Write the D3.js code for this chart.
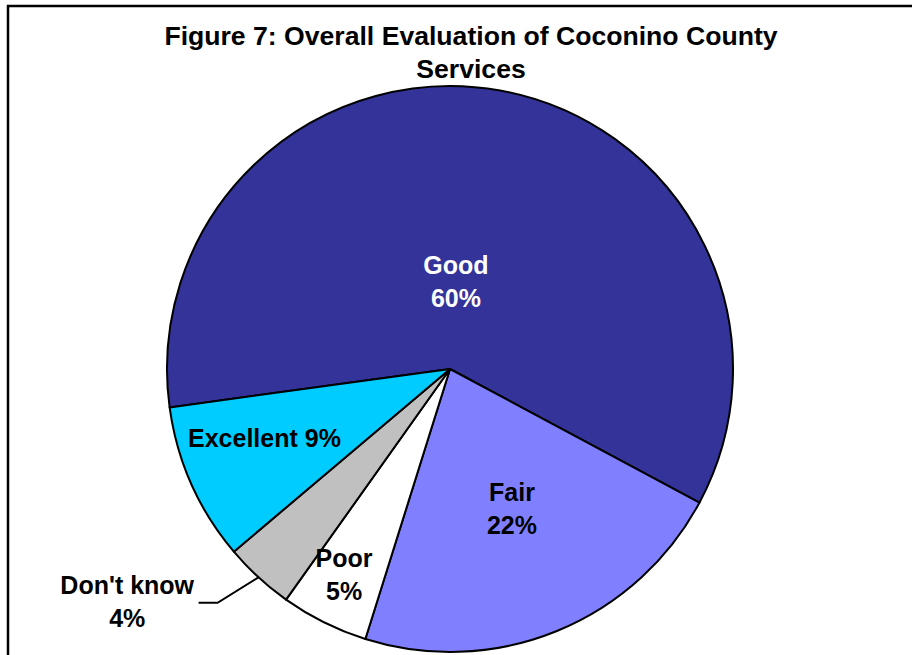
<!DOCTYPE html>
<html>
<head>
<meta charset="utf-8">
<script src="https://cdn.jsdelivr.net/npm/d3@7/dist/d3.min.js"></script>
<style>
  html, body { margin: 0; padding: 0; background: #fff; }
  svg { display: block; }
  text { font-family: Arial, "Liberation Sans", Helvetica, sans-serif; font-weight: bold; }
</style>
</head>
<body>
<svg id="chart" width="912" height="655"></svg>
<script>
// ---- data ----
const categories = ["Good", "Fair", "Poor", "Don't know", "Excellent"];
const values = [60, 22, 5, 4, 9];
const labelLines = [["Good", "60%"], ["Fair", "22%"], ["Poor", "5%"], ["Don't know", "4%"], ["Excellent 9%"]];
const titleLines = ["Figure 7: Overall Evaluation of Coconino County", "Services"];

// ---- style / layout ----
const colors = ["#333399", "#8080FF", "#FFFFFF", "#C0C0C0", "#00CCFF"];
const textColors = ["#FFFFFF", "#000000", "#000000", "#000000", "#000000"];
// label placement in polar terms relative to the slice mid-angle: [radius, angle offset in degrees]
const labelPolar = [[87, -6.3], [153, -1.7], [231, 0.9], [398, 11.6], [198, 3.6]];
const outsideLabel = [false, false, false, true, false];

const W = 912, H = 655;
const cx = 450, cy = 369, R = 283;
const startDeg = -97.8;
const lineGap = 33;
const fontSize = 25;

const svg = d3.select("#chart");

// frame
svg.append("rect")
  .attr("x", 8).attr("y", 6)
  .attr("width", W + 20).attr("height", H + 20)
  .attr("fill", "#fff").attr("stroke", "#000").attr("stroke-width", 2.5);

// title
const title = svg.append("text")
  .attr("x", 471).attr("y", 45)
  .attr("text-anchor", "middle")
  .attr("font-size", 26.6)
  .attr("fill", "#000");
titleLines.forEach((t, i) => {
  title.append("tspan").attr("x", 471).attr("y", 45 + i * lineGap).text(t);
});

// pie
const data = categories.map((c, i) => ({ cat: c, value: values[i], i }));
const start = startDeg * Math.PI / 180;
const pie = d3.pie().value(d => d.value).sort(null)
  .startAngle(start).endAngle(start + 2 * Math.PI);
const arcs = pie(data);
const arc = d3.arc().innerRadius(0).outerRadius(R);

const g = svg.append("g").attr("transform", `translate(${cx},${cy})`);
g.selectAll("path.slice")
  .data(arcs)
  .join("path")
  .attr("class", "slice")
  .attr("d", arc)
  .attr("fill", d => colors[d.data.i])
  .attr("stroke", "#000")
  .attr("stroke-width", 2)
  .attr("stroke-linejoin", "round");

// labels
arcs.forEach(a => {
  const i = a.data.i;
  const mid = (a.startAngle + a.endAngle) / 2;
  const [lr, dA] = labelPolar[i];
  const ang = mid + dA * Math.PI / 180;
  const lx = lr * Math.sin(ang);
  const ly = -lr * Math.cos(ang);
  const lines = labelLines[i];
  const t = g.append("text")
    .attr("text-anchor", "middle")
    .attr("font-size", fontSize)
    .attr("fill", textColors[i]);
  const firstBase = lines.length === 1 ? ly + 8.75 : ly - 7.75;
  lines.forEach((s, k) => {
    t.append("tspan").attr("x", lx).attr("y", firstBase + k * lineGap).text(s);
  });
  if (outsideLabel[i]) {
    const bb = t.node().getBBox();
    const ex = R * Math.sin(mid), ey = -R * Math.cos(mid);
    const hx0 = bb.x + bb.width + 4;
    const hy = ly + 1;
    const hx1 = hx0 + 19;
    g.append("polyline")
      .attr("points", [[ex, ey], [hx1, hy], [hx0, hy]].map(p => p.join(",")).join(" "))
      .attr("fill", "none")
      .attr("stroke", "#000")
      .attr("stroke-width", 2);
  }
});
</script>
</body>
</html>
